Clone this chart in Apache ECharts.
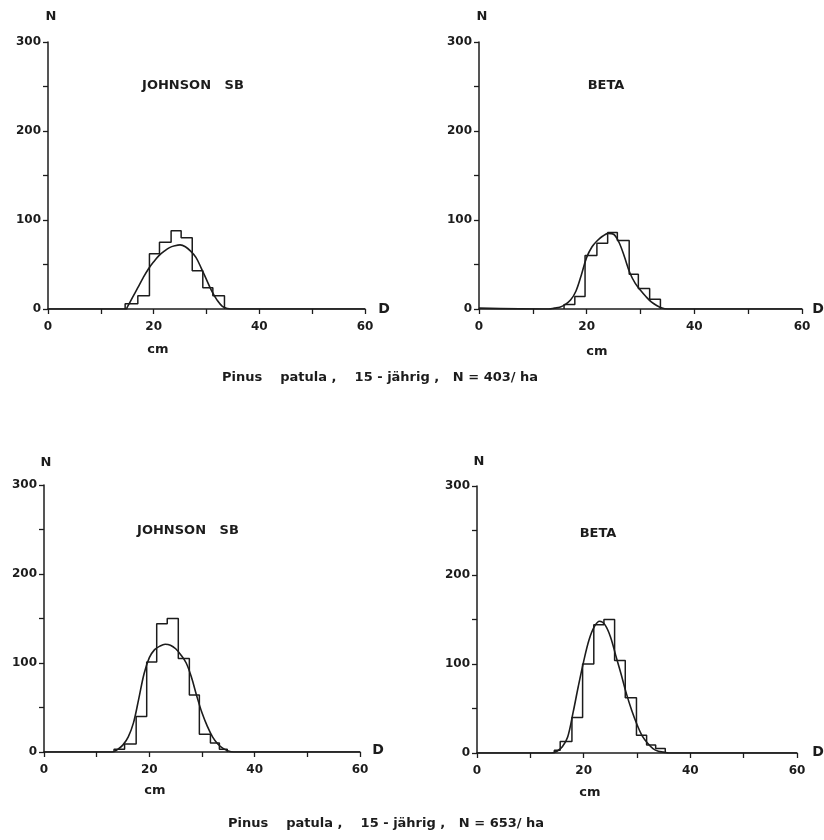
<!DOCTYPE html>
<html>
<head>
<meta charset="utf-8">
<script src="https://cdn.jsdelivr.net/npm/echarts@6/dist/echarts.min.js"></script>
<style>
  html, body { margin: 0; padding: 0; background: #fff; }
  #chart { width: 824px; height: 840px; }
</style>
</head>
<body>
<div id="chart"></div>
<script>
// klassengrenzen (cm) und stammzahlen, gelesen aus der abbildung
const tlEdges = [14.6, 17, 19.2, 21.1, 23.3, 25.2, 27.3, 29.3, 31.2, 33.4]
const tlCounts = [6, 15, 62, 75, 88, 80, 43, 24, 15]
const trEdges = [15.8, 17.8, 19.7, 21.9, 23.9, 25.7, 27.9, 29.6, 31.7, 33.7]
const trCounts = [5, 14, 60, 74, 86, 77, 39, 23, 11]
const blEdges = [13.3, 15.3, 17.5, 19.5, 21.4, 23.4, 25.5, 27.6, 29.5, 31.6, 33.3, 34.8]
const blCounts = [3, 9, 40, 101, 144, 150, 105, 64, 20, 10, 3]
const brEdges = [14.5, 15.6, 17.8, 19.8, 21.9, 23.8, 25.8, 27.8, 29.9, 31.8, 33.5, 35.3]
const brCounts = [3, 13, 40, 100, 144, 150, 104, 62, 20, 9, 5]

// angepasste verteilungen (Johnson SB / Beta)
const tlCurveX = [0, 14.8, 15, 16, 17, 18, 19, 20, 21, 22, 23, 24, 25, 26, 27, 28, 29, 30, 31, 32, 33, 34, 34.5, 60]
const tlCurveY = [0, 0, 2, 13, 24, 35, 45, 53, 60, 65, 69, 71, 72, 70, 65, 58, 46, 33, 20, 10, 3, 0.5, 0, 0]
const trCurveX = [0, 13, 14, 15, 16, 17, 18, 19, 20, 21, 22, 23, 24, 25, 26, 27, 28, 29, 30, 31, 32, 33, 34, 35, 60]
const trCurveY = [1, 0, 1, 2, 5, 10, 20, 38, 58, 70, 77, 82, 85, 84, 75, 59, 41, 29, 21, 14, 8, 4, 1, 0, 0]
const blCurveX = [0, 13, 14, 15, 16, 17, 18, 19, 20, 21, 22, 23, 24, 25, 26, 27, 28, 29, 30, 31, 32, 33, 34, 35, 36, 60]
const blCurveY = [0, 0, 3, 8, 17, 33, 60, 88, 106, 115, 119, 121, 120, 116, 109, 100, 84, 63, 44, 29, 17, 9, 4, 1, 0, 0]
const brCurveX = [0, 14, 15, 16, 17, 18, 19, 20, 21, 22, 23, 24, 25, 26, 27, 28, 29, 30, 31, 32, 33, 34, 35, 36, 60]
const brCurveY = [0, 0, 2, 7, 18, 45, 75, 103, 127, 142, 148, 144, 131, 110, 89, 67, 48, 32, 19, 11, 5, 2, 1, 0, 0]

const xTicks = [0, 20, 40, 60]
const yTicks = [0, 100, 200, 300]

const ink = '#1c1c1c'
const font = 'DejaVu Sans'

// umriss des histogramms als linienzug
const histo = (edges, counts) => {
  const pts = [[edges[0], 0]]
  for (let i = 0; i < counts.length; i++) {
    pts.push([edges[i], counts[i]])
    pts.push([edges[i + 1], counts[i]])
  }
  pts.push([edges[edges.length - 1], 0])
  return pts
}

const zip = (xs, ys) => xs.map((x, i) => [x, ys[i]])

const grids = [
  { left: 48, top: 42, width: 317, height: 267 },
  { left: 479, top: 42, width: 323, height: 267 },
  { left: 44, top: 485, width: 316, height: 267 },
  { left: 477, top: 486, width: 320, height: 267 }
]

const xAxis = grids.map((g, i) => ({
  type: 'value',
  gridIndex: i,
  min: 0,
  max: 60,
  interval: 10,
  axisLine: { lineStyle: { color: ink, width: 1.5 } },
  axisTick: { length: 5, lineStyle: { color: ink, width: 1.3 } },
  splitLine: { show: false },
  axisLabel: {
    margin: 12,
    color: ink,
    fontFamily: font,
    fontWeight: 'bold',
    fontSize: 12,
    formatter: v => xTicks.indexOf(v) >= 0 ? String(v) : ''
  }
}))

const yAxis = grids.map((g, i) => ({
  type: 'value',
  gridIndex: i,
  min: 0,
  max: 300,
  interval: 50,
  axisLine: { show: true, lineStyle: { color: ink, width: 1.5 } },
  axisTick: { show: true, length: 5, lineStyle: { color: ink, width: 1.3 } },
  splitLine: { show: false },
  axisLabel: {
    margin: 7,
    color: ink,
    fontFamily: font,
    fontWeight: 'bold',
    fontSize: 12,
    formatter: v => yTicks.indexOf(v) >= 0 ? String(v) : ''
  }
}))

const hists = [[tlEdges, tlCounts], [trEdges, trCounts], [blEdges, blCounts], [brEdges, brCounts]]
const curves = [[tlCurveX, tlCurveY], [trCurveX, trCurveY], [blCurveX, blCurveY], [brCurveX, brCurveY]]

const series = []
hists.forEach((h, i) => {
  series.push({
    type: 'line',
    xAxisIndex: i,
    yAxisIndex: i,
    data: histo(h[0], h[1]),
    symbol: 'none',
    lineStyle: { color: ink, width: 1.5 },
    z: 3
  })
})
curves.forEach((c, i) => {
  series.push({
    type: 'line',
    xAxisIndex: i,
    yAxisIndex: i,
    data: zip(c[0], c[1]),
    symbol: 'none',
    smooth: 0.35,
    lineStyle: { color: ink, width: 1.6 },
    z: 4
  })
})

const txt = (x, y, s, size, bold) => ({
  type: 'text',
  x: x,
  y: y,
  style: {
    text: s,
    fill: ink,
    font: (bold ? 'bold ' : '') + size + 'px "' + font + '"',
    textAlign: 'center',
    textVerticalAlign: 'middle'
  }
})

const graphic = [
  txt(51, 17, 'N', 13, true),
  txt(482, 17, 'N', 13, true),
  txt(46, 463, 'N', 13, true),
  txt(479, 462, 'N', 13, true),
  txt(193, 86, 'JOHNSON   SB', 13, true),
  txt(606, 86, 'BETA', 13, true),
  txt(188, 531, 'JOHNSON   SB', 13, true),
  txt(598, 534, 'BETA', 13, true),
  txt(384, 309, 'D', 14, true),
  txt(818, 309, 'D', 14, true),
  txt(378, 750, 'D', 14, true),
  txt(818, 752, 'D', 14, true),
  txt(158, 350, 'cm', 13, true),
  txt(597, 352, 'cm', 13, true),
  txt(155, 791, 'cm', 13, true),
  txt(590, 793, 'cm', 13, true),
  txt(380, 378, 'Pinus    patula ,    15 - jährig ,   N = 403/ ha', 13, true),
  txt(386, 824, 'Pinus    patula ,    15 - jährig ,   N = 653/ ha', 13, true)
]

const chart = echarts.init(document.getElementById('chart'), null, { renderer: 'canvas' })
chart.setOption({
  backgroundColor: '#fff',
  animation: false,
  grid: grids,
  xAxis: xAxis,
  yAxis: yAxis,
  series: series,
  graphic: graphic
})
</script>
</body>
</html>
